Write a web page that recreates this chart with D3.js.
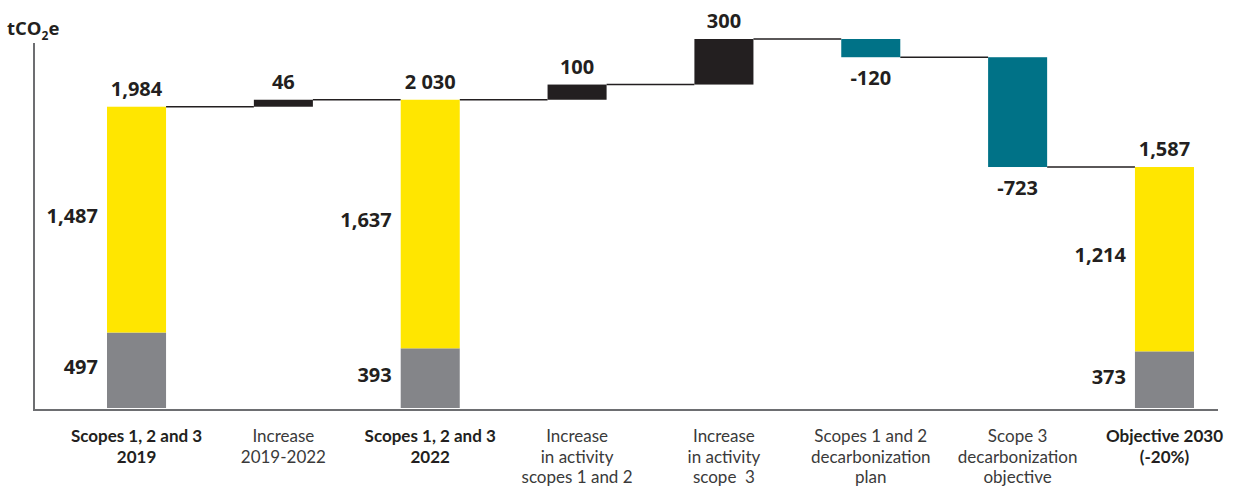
<!DOCTYPE html>
<meta charset="utf-8">
<head>
    <style>
        body { margin: 0; background: #fff; }
        svg { display: block; }
        text { font-family: 'Open Sans', sans-serif; }
        .val { font-size: 20px; font-weight: bold; fill: #231f20; }
        .cat { font-family: Lato, sans-serif; font-size: 17px; fill: #3a3a3a; white-space: pre; }
        .cat.total { font-weight: bold; fill: #231f20; }
        .connector { stroke: #231f20; stroke-width: 1.5; }
    </style>
</head>
<body>
    <svg width="1233" height="488"></svg>

    <script src="https://d3js.org/d3.v7.min.js"></script>
    <script type="text/javascript">

        // data
        var categories = [
            ["Scopes 1, 2 and 3", "2019"],
            ["Increase", "2019-2022"],
            ["Scopes 1, 2 and 3", "2022"],
            ["Increase", "in activity", "scopes 1 and 2"],
            ["Increase", "in activity", "scope  3"],
            ["Scopes 1 and 2", "decarbonization", "plan"],
            ["Scope 3", "decarbonization", "objective"],
            ["Objective 2030", "(-20%)"]
        ];
        var isTotal = [true, false, true, false, false, false, false, true];
        var values = [1984, 46, 2030, 100, 300, -120, -723, 1587];
        var valueLabels = ["1,984", "46", "2 030", "100", "300", "-120", "-723", "1,587"];
        var scope12 = [497, null, 393, null, null, null, null, 373];
        var scope3 = [1487, null, 1637, null, null, null, null, 1214];
        var scope12Labels = ["497", "", "393", "", "", "", "", "373"];
        var scope3Labels = ["1,487", "", "1,637", "", "", "", "", "1,214"];

        var svg = d3.select("svg");

        var x = d3.scaleBand()
            .domain(d3.range(categories.length))
            .range([33, 1268])
            .paddingInner(0.598)
            .paddingOuter(0.504);

        var y = d3.scaleLinear()
            .domain([0, 2430])
            .range([408, 39]);

        // running totals for the waterfall
        var steps = [];
        var running = 0;
        values.forEach(function (v, i) {
            var start, end;
            if (isTotal[i]) { start = 0; end = v; }
            else { start = running; end = running + v; }
            running = end;
            steps.push({ i: i, start: start, end: end, v: v });
        });

        // axes lines
        svg.append("line")
            .attr("x1", 34).attr("x2", 34)
            .attr("y1", 43).attr("y2", y(0) + 2)
            .attr("stroke", "#6d6e71").attr("stroke-width", 2);
        svg.append("line")
            .attr("x1", 33).attr("x2", 1218)
            .attr("y1", y(0) + 2).attr("y2", y(0) + 2)
            .attr("stroke", "#6d6e71").attr("stroke-width", 2);

        var unit = svg.append("text")
            .attr("x", 7).attr("y", 35)
            .style("font-size", "18.5px").style("font-weight", "bold").style("fill", "#231f20");
        unit.append("tspan").text("tCO");
        unit.append("tspan").text("2").style("font-size", "12px").attr("dy", 5);
        unit.append("tspan").text("e").attr("dy", -5);

        // connectors
        svg.append("g").selectAll("line")
            .data(steps.slice(0, -1))
            .enter().append("line")
            .attr("class", "connector")
            .attr("x1", function (d) { return x(d.i) + x.bandwidth(); })
            .attr("x2", function (d) { return x(d.i + 1); })
            .attr("y1", function (d) { return y(d.end); })
            .attr("y2", function (d) { return y(d.end); });

        // stacked totals
        var totals = steps.filter(function (d) { return isTotal[d.i]; });
        svg.append("g").selectAll("rect.s12")
            .data(totals).enter().append("rect")
            .attr("x", function (d) { return x(d.i); })
            .attr("width", x.bandwidth())
            .attr("y", function (d) { return y(scope12[d.i]); })
            .attr("height", function (d) { return y(0) - y(scope12[d.i]); })
            .attr("fill", "#848589");
        svg.append("g").selectAll("rect.s3")
            .data(totals).enter().append("rect")
            .attr("x", function (d) { return x(d.i); })
            .attr("width", x.bandwidth())
            .attr("y", function (d) { return y(scope12[d.i] + scope3[d.i]); })
            .attr("height", function (d) { return y(scope12[d.i]) - y(scope12[d.i] + scope3[d.i]); })
            .attr("fill", "#ffe600");

        // deltas
        var deltas = steps.filter(function (d) { return !isTotal[d.i]; });
        svg.append("g").selectAll("rect")
            .data(deltas).enter().append("rect")
            .attr("x", function (d) { return x(d.i); })
            .attr("width", x.bandwidth())
            .attr("y", function (d) { return y(Math.max(d.start, d.end)); })
            .attr("height", function (d) { return Math.abs(y(d.start) - y(d.end)); })
            .attr("fill", function (d) { return d.v < 0 ? "#007287" : "#231f20"; });

        // value labels
        svg.append("g").selectAll("text")
            .data(steps).enter().append("text")
            .attr("class", "val")
            .attr("text-anchor", "middle")
            .attr("x", function (d) { return x(d.i) + x.bandwidth() / 2; })
            .attr("y", function (d) {
                if (d.v < 0) return y(d.end) + 28;
                return y(d.end) - 11;
            })
            .text(function (d) { return valueLabels[d.i]; });

        // segment labels
        svg.append("g").selectAll("text")
            .data(totals).enter().append("text")
            .attr("class", "val")
            .attr("text-anchor", "end")
            .attr("x", function (d) { return x(d.i) - 9; })
            .attr("y", function (d) { return (y(0) + y(scope12[d.i])) / 2 + 4; })
            .text(function (d) { return scope12Labels[d.i]; });
        svg.append("g").selectAll("text")
            .data(totals).enter().append("text")
            .attr("class", "val")
            .attr("text-anchor", "end")
            .attr("x", function (d) { return x(d.i) - 9; })
            .attr("y", function (d) { return (y(scope12[d.i]) + y(d.end)) / 2 + 3; })
            .text(function (d) { return scope3Labels[d.i]; });

        // category labels
        var cats = svg.append("g").selectAll("text")
            .data(categories).enter().append("text")
            .attr("class", function (d, i) { return isTotal[i] ? "cat total" : "cat"; })
            .attr("text-anchor", "middle")
            .attr("x", function (d, i) { return x(i) + x.bandwidth() / 2; })
            .attr("y", 442);
        cats.selectAll("tspan")
            .data(function (d) { return d; })
            .enter().append("tspan")
            .attr("x", function () { return d3.select(this.parentNode).attr("x"); })
            .attr("dy", function (d, j) { return j === 0 ? 0 : 20.5; })
            .text(function (d) { return d; });

    </script>
</body>
